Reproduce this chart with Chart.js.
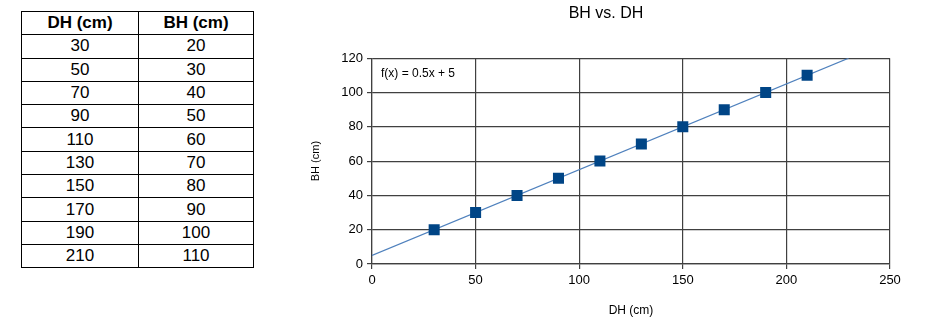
<!DOCTYPE html>
<html>
<head>
<meta charset="utf-8">
<script src="https://cdn.jsdelivr.net/npm/chart.js@4/dist/chart.umd.min.js"></script>
<style>
  html, body { margin: 0; padding: 0; background: #fff; }
  body { width: 951px; height: 318px; position: relative; overflow: hidden; font-family: "Liberation Sans", Arial, sans-serif; }
  #tabela { position: absolute; left: 21px; top: 11px; border-collapse: collapse; font-size: 17px; color: #000; }
  #tabela th, #tabela td { border: 1px solid #000; height: 22.3px; padding: 0; text-align: center; line-height: 20px; }
  #tabela th { font-weight: bold; }
  #tabela th:first-child, #tabela td:first-child { width: 116px; }
  #tabela th:last-child, #tabela td:last-child { width: 114px; }
  #grafico { position: absolute; left: 261px; top: 0; width: 690px; height: 318px; }
</style>
</head>
<body>
<table id="tabela"><thead></thead><tbody></tbody></table>
<div id="grafico"><canvas id="chart-bh"></canvas></div>
<script>
// dados
const colunas = ['DH (cm)', 'BH (cm)'];
const dh = [30, 50, 70, 90, 110, 130, 150, 170, 190, 210];
const bh = [20, 30, 40, 50, 60, 70, 80, 90, 100, 110];
const tendenciaX = [0, 230];
const tendenciaY = [5, 120];
const tendenciaTexto = 'f(x) = 0.5x + 5';
const xTicks = [0, 50, 100, 150, 200, 250];
const yTicks = [0, 20, 40, 60, 80, 100, 120];

// tabela
document.querySelector('#tabela thead').innerHTML =
  '<tr>' + colunas.map(c => `<th>${c}</th>`).join('') + '</tr>';
document.querySelector('#tabela tbody').innerHTML =
  dh.map((d, i) => `<tr><td>${d}</td><td>${bh[i]}</td></tr>`).join('');

const fonte = '"Liberation Sans", Arial, sans-serif';
const corGrade = '#404040';

// texto da equação no canto do gráfico
const equacaoPlugin = {
  id: 'equacao',
  afterDatasetsDraw(chart) {
    const { ctx, chartArea } = chart;
    ctx.save();
    ctx.font = '12px ' + fonte;
    ctx.fillStyle = '#000';
    ctx.textBaseline = 'middle';
    ctx.fillText(tendenciaTexto, chartArea.left + 9, chartArea.top + 15);
    ctx.restore();
  }
};

new Chart(document.getElementById('chart-bh'), {
  type: 'scatter',
  data: {
    datasets: [
      {
        type: 'line',
        label: 'tendência',
        data: tendenciaX.map((x, i) => ({ x, y: tendenciaY[i] })),
        borderColor: '#4f81bd',
        borderWidth: 1.2,
        pointRadius: 0,
        fill: false,
        order: 2
      },
      {
        label: 'BH',
        data: dh.map((x, i) => ({ x, y: bh[i] })),
        backgroundColor: '#004586',
        borderColor: '#004586',
        borderWidth: 0,
        pointStyle: 'rect',
        pointRadius: 7.8,
        pointHoverRadius: 7.8,
        order: 1
      }
    ]
  },
  options: {
    responsive: true,
    maintainAspectRatio: false,
    animation: false,
    layout: { padding: 0 },
    plugins: {
      legend: { display: false },
      tooltip: { enabled: false },
      title: {
        display: true,
        text: 'BH vs. DH',
        color: '#000',
        font: { family: fonte, size: 16, weight: 'normal' },
        padding: { top: 4, bottom: 35 }
      }
    },
    scales: {
      x: {
        type: 'linear',
        min: 0,
        max: 250,
        afterBuildTicks: s => { s.ticks = xTicks.map(v => ({ value: v })); },
        afterFit: s => { s.height = 54; },
        grid: { color: corGrade, lineWidth: 1.2, tickLength: 5, tickColor: corGrade },
        border: { color: corGrade, width: 1.2 },
        ticks: { color: '#000', font: { family: fonte, size: 13 }, padding: 4, maxRotation: 0 },
        title: { display: true, text: 'DH (cm)', color: '#000', font: { family: fonte, size: 12 }, padding: { top: 8, bottom: 0 } }
      },
      y: {
        type: 'linear',
        min: 0,
        max: 120,
        afterBuildTicks: s => { s.ticks = yTicks.map(v => ({ value: v })); },
        afterFit: s => { s.width = 111; },
        grid: { color: corGrade, lineWidth: 1.2, tickLength: 5, tickColor: corGrade },
        border: { color: corGrade, width: 1.2 },
        ticks: { color: '#000', font: { family: fonte, size: 13 }, padding: 4 },
        title: { display: true, text: 'BH (cm)', color: '#000', font: { family: fonte, size: 11 }, padding: { top: 48, bottom: 0 } }
      },
      margem: {
        type: 'linear',
        position: 'right',
        display: true,
        afterFit: s => { s.width = 61; },
        grid: { display: false, drawOnChartArea: false },
        border: { display: false },
        ticks: { display: false }
      }
    }
  },
  plugins: [equacaoPlugin]
});
</script>
</body>
</html>
